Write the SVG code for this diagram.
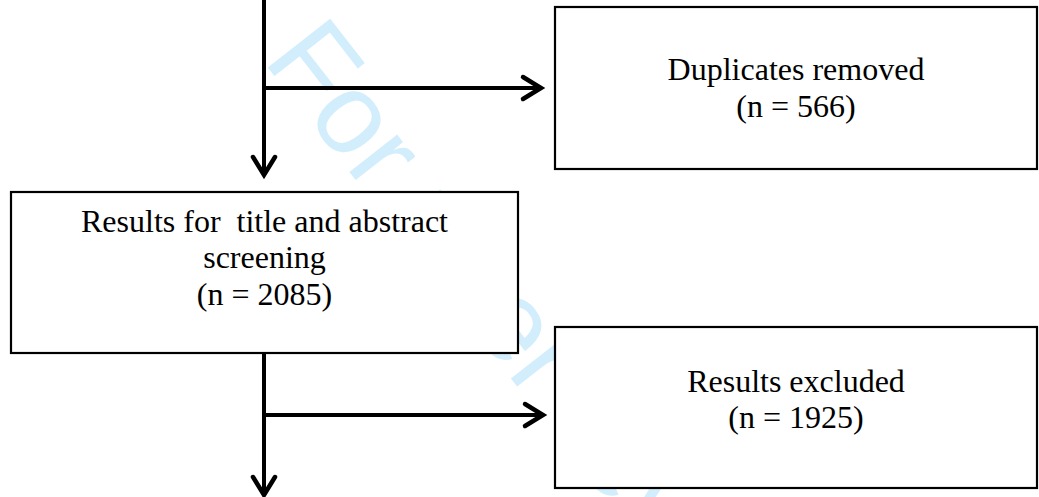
<svg xmlns="http://www.w3.org/2000/svg" width="1039" height="497" viewBox="0 0 1039 497">
  <style>
    .box { fill: #ffffff; stroke: #000000; stroke-width: 2.2; }
    .lbl { font-family: "Liberation Serif", "Times New Roman", serif; font-size: 32px; fill: #000000; text-anchor: middle; white-space: pre; }
    .conn { stroke: #000000; stroke-width: 4; fill: none; }
    .wm { font-family: "Liberation Sans", Arial, sans-serif; font-size: 115px; fill: #d2eefc; }
  </style>
  <defs>
    <marker id="arrow" markerUnits="userSpaceOnUse" markerWidth="30" markerHeight="30" viewBox="-24 -14 30 28" refX="0" refY="0" orient="auto">
      <path d="M-19,-11 L-1,0 L-19,11" fill="none" stroke="#000000" stroke-width="4.5" stroke-linecap="round" stroke-linejoin="miter"/>
    </marker>
  </defs>
  <rect width="1039" height="497" fill="#ffffff"/>
  <g id="watermark">
    <text class="wm" x="0" y="0" transform="translate(262,60) rotate(52)" xml:space="preserve">For peer review only</text>
  </g>
  <g id="connectors">
    <line class="conn" x1="264" y1="0" x2="264" y2="176" marker-end="url(#arrow)"/>
    <line class="conn" x1="264" y1="88" x2="542" y2="88" marker-end="url(#arrow)"/>
    <line class="conn" x1="264" y1="353" x2="264" y2="496" marker-end="url(#arrow)"/>
    <line class="conn" x1="264" y1="415" x2="544" y2="415" marker-end="url(#arrow)"/>
  </g>
  <g id="duplicates">
    <rect class="box" x="555" y="7" width="482" height="162"/>
    <text class="lbl" x="796" y="80">Duplicates removed</text>
    <text class="lbl" x="796" y="117">(n = 566)</text>
  </g>
  <g id="screening">
    <rect class="box" x="11" y="192" width="507" height="161"/>
    <text class="lbl" x="264.5" y="232" xml:space="preserve">Results for  title and abstract</text>
    <text class="lbl" x="264.5" y="268">screening</text>
    <text class="lbl" x="264.5" y="305">(n = 2085)</text>
  </g>
  <g id="excluded">
    <rect class="box" x="555" y="327" width="482" height="161"/>
    <text class="lbl" x="796" y="392">Results excluded</text>
    <text class="lbl" x="796" y="428">(n = 1925)</text>
  </g>
</svg>
